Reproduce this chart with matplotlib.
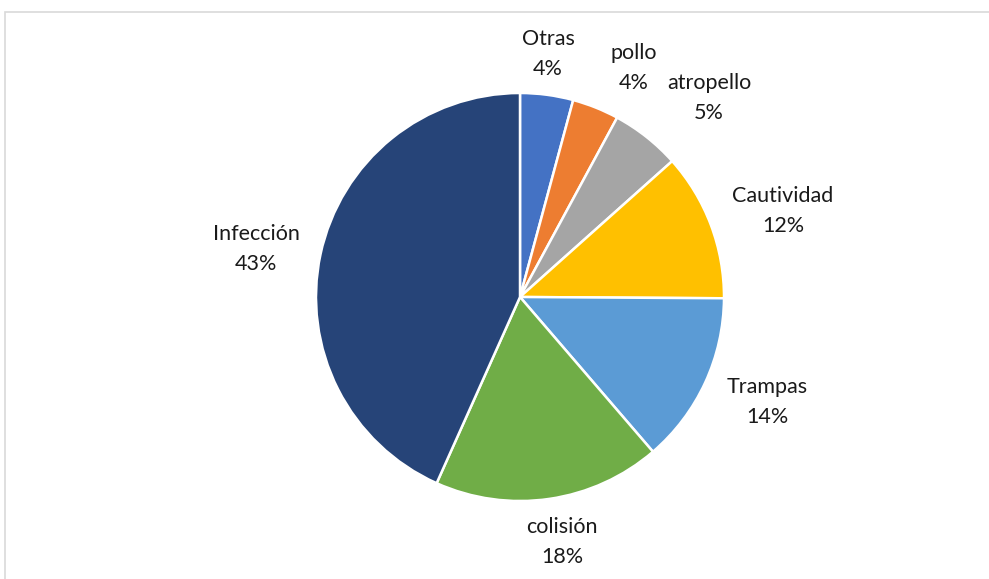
import matplotlib.pyplot as plt
from matplotlib.patches import Rectangle

# datos (porciones, etiquetas como aparecen)
categorias = ["Otras", "pollo", "atropello", "Cautividad", "Trampas", "colisión", "Infección"]
valores = [4.2, 3.7, 5.5, 11.7, 13.6, 18.0, 43.3]
porcentajes = ["4%", "4%", "5%", "12%", "14%", "18%", "43%"]
colores = ["#4472C4", "#ED7D31", "#A5A5A5", "#FFC000", "#5B9BD5", "#70AD47", "#264478"]

# posicion de las etiquetas (pixeles de la imagen, centro del texto)
pos_etiquetas = [(548, 54), (634, 68), (709, 98), (783, 211), (767, 402), (562, 542), (256, 249)]

W, H = 989, 579
fig = plt.figure(figsize=(W / 100, H / 100), dpi=100)

# marco del area del grafico
fig.patches.append(Rectangle((5 / W, -0.1), 1.2, 1.1 - 12 / H, transform=fig.transFigure,
                             fill=False, edgecolor="#D9D9D9", linewidth=1.2))

cx, cy, r = 520, 297, 204
ax = fig.add_axes([(cx - r) / W, (H - cy - r) / H, 2 * r / W, 2 * r / H])
ax.pie(valores, colors=colores, startangle=90, counterclock=False, radius=1,
       wedgeprops=dict(edgecolor="white", linewidth=1.8))
ax.set_xlim(-1, 1)
ax.set_ylim(-1, 1)
ax.axis("off")

for cat, pct, (x, y) in zip(categorias, porcentajes, pos_etiquetas):
    fig.text(x / W, 1 - y / H, cat + "\n" + pct, ha="center", va="center",
             fontsize=15.5, family="Lato", color="#1A1A1A", linespacing=1.6)

fig.savefig("out.png", dpi=100)
